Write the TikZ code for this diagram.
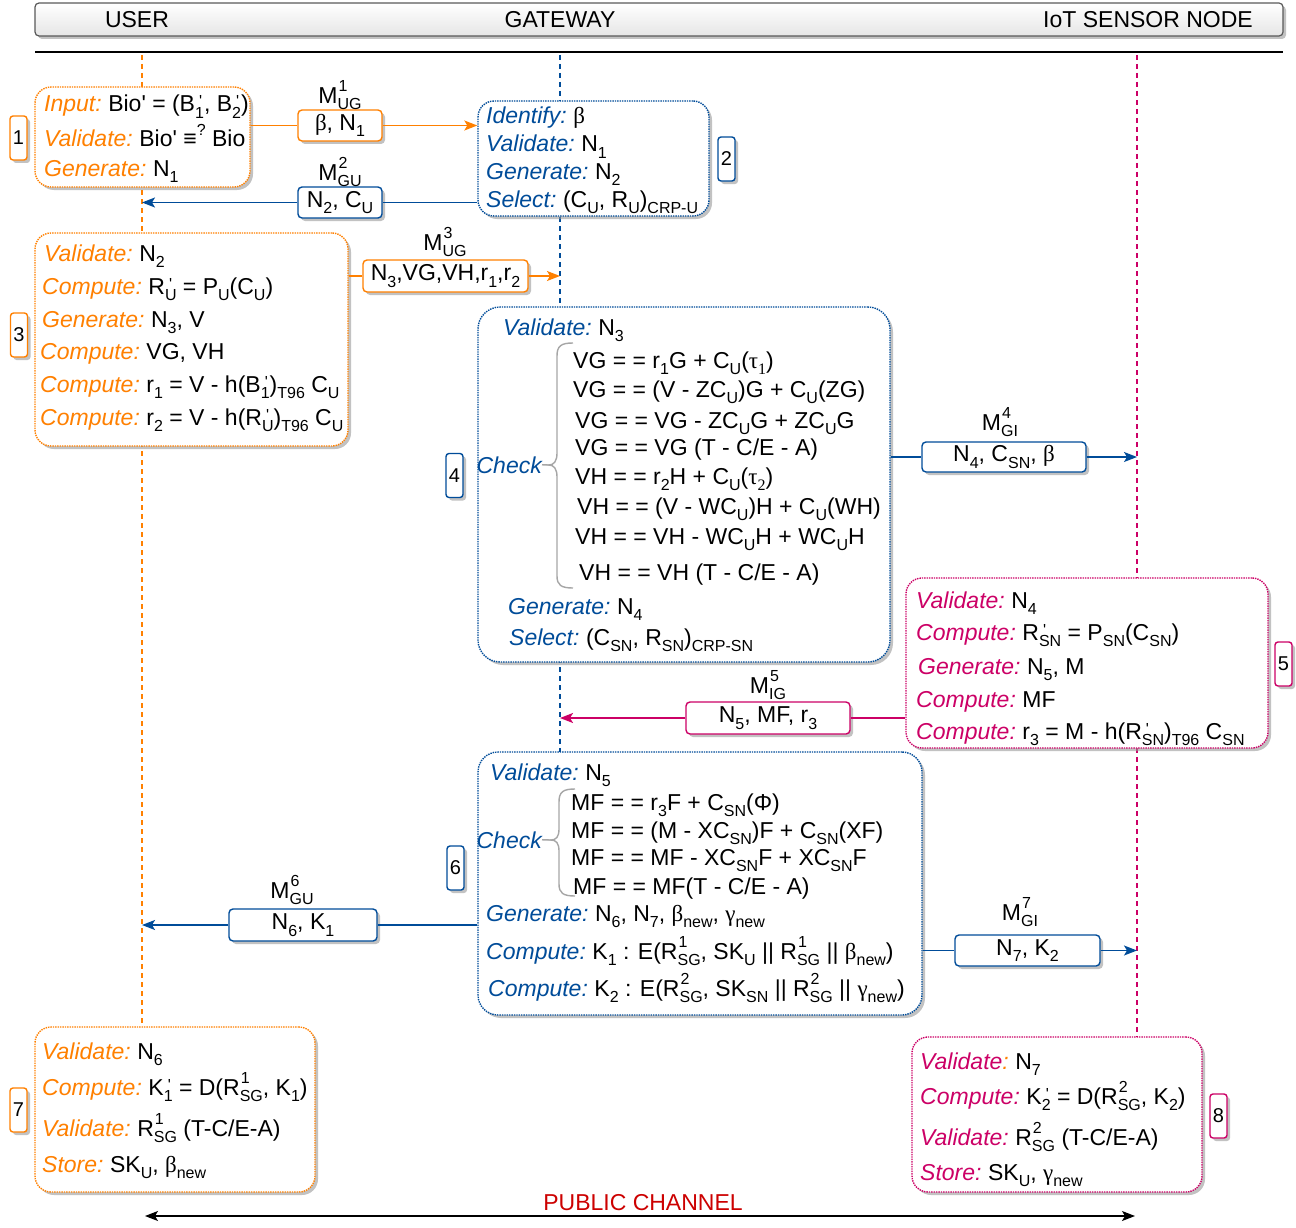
\documentclass[tikz,border=0pt]{standalone}
\usepackage{fontspec}
\setmainfont{Liberation Sans}
\newfontfamily\grk{Liberation Serif}
\newfontfamily\pln[Ligatures=TeXOff]{Liberation Sans}
\usetikzlibrary{shadows,arrows.meta}
\definecolor{cor}{HTML}{FF8000}
\definecolor{cbl}{HTML}{004C99}
\definecolor{cpk}{HTML}{CC0066}
\definecolor{cred}{HTML}{CC0000}
\definecolor{cbr}{HTML}{A6A6A6}
\newcommand{\xsb}[1]{\raisebox{-0.28em}{\fontsize{16}{16}\selectfont #1}}
\newcommand{\xsp}[1]{\raisebox{0.52em}{\fontsize{16}{16}\selectfont #1}}
\newcommand{\xss}[2]{\makebox[0pt][l]{\hspace{1pt}\xsp{#1}}\xsb{#2}}
\newcommand{\xpr}[1]{\makebox[0pt][l]{\hspace{4pt}\raisebox{5pt}{\fontsize{16}{16}\pln '}}\xsb{#1}}
\newcommand{\kw}[2]{\textcolor{#1}{\itshape #2}\kern-2pt\relax}
\newcommand{\pr}{{\pln '}}
\begin{document}
\begin{tikzpicture}[x=1pt,y=-1pt,
  shd/.style={drop shadow={shadow xshift=3pt, shadow yshift=-3pt, fill=black!40, opacity=0.6}},
  proc/.style={rounded corners=16pt, densely dotted, line width=1.4pt, fill=white, shd, inner sep=0pt},
  msg/.style={rounded corners=4pt, line width=1.4pt, fill=white, shd, inner sep=0pt, font=\fontsize{23}{27}\selectfont},
  lbl/.style={rounded corners=3pt, line width=1.4pt, fill=white, shd, inner sep=0pt, minimum width=17pt, minimum height=44pt, font=\fontsize{20}{24}\selectfont},
  txt/.style={anchor=base west, inner sep=0pt, font=\fontsize{23}{27}\selectfont},
  mlab/.style={inner sep=0pt, font=\fontsize{23}{27}\selectfont},
  conn/.style={line width=1.5pt},
  arr/.style={-{Stealth[length=13pt,width=10pt,inset=3pt]}},
  life/.style={line width=1.2pt, dash pattern=on 5pt off 4pt},
  bracec/.style={draw=cbr, line width=1.4pt}
]
\useasboundingbox (0,0) rectangle (1296,1228);
% header
\node[draw=black!65, rounded corners=4pt, line width=1.2pt, top color=white, bottom color=black!10, shd, minimum width=1248pt, minimum height=33pt, inner sep=0pt] (hdr) at (659,19.5) {};
\node[mlab] (hU) at (137,20) {USER};
\node[mlab] (hG) at (560,20) {GATEWAY};
\node[mlab] (hS) at (1148,20) {IoT SENSOR NODE};
\draw[line width=1.6pt] (35,52) -- (1283,52);
% lifelines
\coordinate (uL) at (142,55);
\coordinate (uB) at (142,1027);
\coordinate (gL) at (560,55);
\coordinate (gB) at (560,752);
\coordinate (sL) at (1137,55);
\coordinate (sB) at (1137,1037);
\draw[life, cor] (uL) -- (uB);
\draw[life, cbl] (gL) -- (gB);
\draw[life, cpk] (sL) -- (sB);
% boxes
\node[proc, draw=cor, minimum width=215pt, minimum height=100pt] (b1) at (142.5,137) {};
\node[proc, draw=cbl, minimum width=231pt, minimum height=115pt] (b2) at (593.5,158.5) {};
\node[proc, draw=cor, minimum width=313pt, minimum height=213pt] (b3) at (191.5,339.5) {};
\node[proc, draw=cbl, minimum width=412pt, minimum height=355pt, rounded corners=22pt] (b4) at (684,484.5) {};
\node[proc, draw=cpk, minimum width=362pt, minimum height=170pt] (b5) at (1087,663) {};
\node[proc, draw=cbl, minimum width=444pt, minimum height=263pt, rounded corners=20pt] (b6) at (700,883.5) {};
\node[proc, draw=cor, minimum width=280pt, minimum height=165pt] (b7) at (175,1109.5) {};
\node[proc, draw=cpk, minimum width=290pt, minimum height=155pt] (b8) at (1057,1114.5) {};
% step labels
\node[lbl, draw=cor] (l1) at (18.5,138) {1};
\node[lbl, draw=cbl] (l2) at (726.5,159) {2};
\node[lbl, draw=cor] (l3) at (19,335) {3};
\node[lbl, draw=cbl] (l4) at (454.5,475.5) {4};
\node[lbl, draw=cpk] (l5) at (1283.5,664) {5};
\node[lbl, draw=cbl] (l6) at (455.5,868) {6};
\node[lbl, draw=cor] (l7) at (18.5,1110) {7};
\node[lbl, draw=cpk] (l8) at (1218.5,1116) {8};
% box 1
\node[txt] (t1a) at (44,112) {\kw{cor}{Input:} Bio\pr{} = (B\xpr{1}, B\xpr{2})};
\node[txt] (t1b) at (44,147) {\kw{cor}{Validate:} Bio\pr{} ≡\xsp{?} Bio};
\node[txt] (t1c) at (44,176) {\kw{cor}{Generate:} N\xsb{1}};
% box 2
\node[txt] (t2a) at (486,124) {\kw{cbl}{Identify:} {\grk β}};
\node[txt] (t2b) at (486,152) {\kw{cbl}{Validate:} N\xsb{1}};
\node[txt] (t2c) at (486,179) {\kw{cbl}{Generate:} N\xsb{2}};
\node[txt] (t2d) at (486,207) {\kw{cbl}{Select:} (C\xsb{U}, R\xsb{U})\xsb{CRP-U}};
% box 3
\node[txt] (t3a) at (44,261) {\kw{cor}{Validate:} N\xsb{2}};
\node[txt] (t3b) at (42,294) {\kw{cor}{Compute:} R\xpr{U} = P\xsb{U}(C\xsb{U})};
\node[txt] (t3c) at (42,327) {\kw{cor}{Generate:} N\xsb{3}, V};
\node[txt] (t3d) at (40,359) {\kw{cor}{Compute:} VG, VH};
\node[txt] (t3e) at (40,392) {\kw{cor}{Compute:} r\xsb{1} = V - h(B\xpr{1})\xsb{T96} C\xsb{U}};
\node[txt] (t3f) at (40,425) {\kw{cor}{Compute:} r\xsb{2} = V - h(R\xpr{U})\xsb{T96} C\xsb{U}};
% box 4
\node[txt] (t4a) at (503,335) {\kw{cbl}{Validate:} N\xsb{3}};
\node[txt] (t4e1) at (573,368) {VG = = r\xsb{1}G + C\xsb{U}({\grk τ\xsb{1}})};
\node[txt] (t4e2) at (573,397) {VG = = (V -  ZC\xsb{U})G + C\xsb{U}(ZG)};
\node[txt] (t4e3) at (575,428) {VG = = VG - ZC\xsb{U}G + ZC\xsb{U}G};
\node[txt] (t4e4) at (575,455) {VG = = VG (T - C/E - A)};
\node[txt] (t4e5) at (575,484) {VH = = r\xsb{2}H + C\xsb{U}({\grk τ\xsb{2}})};
\node[txt] (t4e6) at (577,514) {VH = = (V - WC\xsb{U})H + C\xsb{U}(WH)};
\node[txt] (t4e7) at (575,544) {VH = = VH -  WC\xsb{U}H + WC\xsb{U}H};
\node[txt] (t4e8) at (579,580) {VH = = VH (T - C/E - A)};
\node[txt] (t4b) at (508,614) {\kw{cbl}{Generate:} N\xsb{4}};
\node[txt] (t4c) at (509,645) {\kw{cbl}{Select:} (C\xsb{SN}, R\xsb{SN})\xsb{CRP-SN}};
\node[txt, anchor=base east] (ck4) at (542,473) {\textcolor{cbl}{\itshape Check}};
\coordinate (br4) at (549,465);
\draw[bracec] (573,343) .. controls (561,343) and (557,346) .. (557,356) -- (557,453) .. controls (557,461) and (554,465) .. (br4) .. controls (554,465) and (557,469) .. (557,477) -- (557,576) .. controls (557,585) and (561,588) .. (573,588);
\draw[bracec] (ck4.east) -- (br4);
% box 5
\node[txt] (t5a) at (916,608) {\kw{cpk}{Validate:} N\xsb{4}};
\node[txt] (t5b) at (916,640) {\kw{cpk}{Compute:} R\xpr{SN} = P\xsb{SN}(C\xsb{SN})};
\node[txt] (t5c) at (918,674) {\kw{cpk}{Generate:} N\xsb{5}, M};
\node[txt] (t5d) at (916,707) {\kw{cpk}{Compute:} MF};
\node[txt] (t5e) at (916,739) {\kw{cpk}{Compute:} r\xsb{3} = M - h(R\xpr{SN})\xsb{T96} C\xsb{SN}};
% box 6
\node[txt] (t6a) at (490,780) {\kw{cbl}{Validate:} N\xsb{5}};
\node[txt] (t6e1) at (571,810) {MF = = r\xsb{3}F + C\xsb{SN}(Φ)};
\node[txt] (t6e2) at (571,838) {MF = = (M - XC\xsb{SN})F + C\xsb{SN}(XF)};
\node[txt] (t6e3) at (571,865) {MF = = MF - XC\xsb{SN}F + XC\xsb{SN}F};
\node[txt] (t6e4) at (573,894) {MF = = MF(T - C/E - A)};
\node[txt] (t6b) at (486,921) {\kw{cbl}{Generate:} N\xsb{6}, N\xsb{7}, {\grk β}\xsb{new}, {\grk γ}\xsb{new}};
\node[txt] (t6c) at (486,959) {\kw{cbl}{Compute:} K\xsb{1} : E(R\xss{1}{SG}, SK\xsb{U} || R\xss{1}{SG} || {\grk β}\xsb{new})};
\node[txt] (t6d) at (488,996) {\kw{cbl}{Compute:} K\xsb{2} : E(R\xss{2}{SG}, SK\xsb{SN} || R\xss{2}{SG} || {\grk γ}\xsb{new})};
\node[txt, anchor=base east] (ck6) at (542,848) {\textcolor{cbl}{\itshape Check}};
\coordinate (br6) at (551,840);
\draw[bracec] (575,789) .. controls (563,789) and (559,792) .. (559,802) -- (559,829) .. controls (559,837) and (556,840) .. (br6) .. controls (556,840) and (559,843) .. (559,851) -- (559,884) .. controls (559,893) and (563,896) .. (575,896);
\draw[bracec] (ck6.east) -- (br6);
% box 7
\node[txt] (t7a) at (42,1059) {\kw{cor}{Validate:} N\xsb{6}};
\node[txt] (t7b) at (42,1095) {\kw{cor}{Compute:} K\xpr{1} = D(R\xss{1}{SG}, K\xsb{1})};
\node[txt] (t7c) at (42,1136) {\kw{cor}{Validate:} R\xss{1}{SG} (T-C/E-A)};
\node[txt] (t7d) at (42,1172) {\kw{cor}{Store:} SK\xsb{U}, {\grk β}\xsb{new}};
% box 8
\node[txt] (t8a) at (920,1069) {\textcolor{cpk}{\itshape Validate}\kw{cor}{:} N\xsb{7}};
\node[txt] (t8b) at (920,1104) {\kw{cpk}{Compute:} K\xpr{2} = D(R\xss{2}{SG}, K\xsb{2})};
\node[txt] (t8c) at (920,1145) {\kw{cpk}{Validate:} R\xss{2}{SG} (T-C/E-A)};
\node[txt] (t8d) at (920,1180) {\kw{cpk}{Store:} SK\xsb{U}, {\grk γ}\xsb{new}};
% messages
\node[msg, draw=cor, minimum width=84pt, minimum height=31pt] (m1) at (340,125.5) {{\grk β}, N\xsb{1}};
\node[mlab] (ml1) at (340,95) {M\xss{1}{UG}};
\node[msg, draw=cbl, minimum width=84pt, minimum height=31pt] (m2) at (340,202.5) {N\xsb{2}, C\xsb{U}};
\node[mlab] (ml2) at (340,172) {M\xss{2}{GU}};
\node[msg, draw=cor, minimum width=165pt, minimum height=32pt] (m3) at (445.5,276) {N\xsb{3},VG,VH,r\xsb{1},r\xsb{2}};
\node[mlab] (ml3) at (445,242) {M\xss{3}{UG}};
\node[msg, draw=cbl, minimum width=164pt, minimum height=30pt] (m4) at (1004,457) {N\xsb{4}, C\xsb{SN}, {\grk β}};
\node[mlab] (ml4) at (1000,422) {M\xss{4}{GI}};
\node[msg, draw=cpk, minimum width=164pt, minimum height=32pt] (m5) at (768,718) {N\xsb{5}, MF, r\xsb{3}};
\node[mlab] (ml5) at (768,685) {M\xss{5}{IG}};
\node[msg, draw=cbl, minimum width=148pt, minimum height=32pt] (m6) at (303,925) {N\xsb{6}, K\xsb{1}};
\node[mlab] (ml6) at (292,890) {M\xss{6}{GU}};
\node[msg, draw=cbl, minimum width=145pt, minimum height=31pt] (m7) at (1027.5,950.5) {N\xsb{7}, K\xsb{2}};
\node[mlab] (ml7) at (1020,912) {M\xss{7}{GI}};
% connectors
\draw[conn, cor] (b1.east |- m1.west) -- (m1.west);
\draw[conn, cor, arr] (m1.east) -- (m1.east -| b2.west);
\draw[conn, cbl] (b2.west |- m2.east) -- (m2.east);
\draw[conn, cbl, arr] (m2.west) -- (m2.west -| uL);
\draw[conn, cor] (b3.east |- m3.west) -- (m3.west);
\draw[conn, cor, arr] (m3.east) -- (m3.east -| gL);
\draw[conn, cbl] (b4.east |- m4.west) -- (m4.west);
\draw[conn, cbl, arr] (m4.east) -- (m4.east -| sL);
\draw[conn, cpk] (b5.west |- m5.east) -- (m5.east);
\draw[conn, cpk, arr] (m5.west) -- (m5.west -| gL);
\draw[conn, cbl] (b6.west |- m6.east) -- (m6.east);
\draw[conn, cbl, arr] (m6.west) -- (m6.west -| uL);
\draw[conn, cbl] (b6.east |- m7.west) -- (m7.west);
\draw[conn, cbl, arr] (m7.east) -- (m7.east -| sL);
% public channel
\node[mlab, text=cred] (pc) at (643,1203) {PUBLIC CHANNEL};
\coordinate (pcL) at (145,1216);
\coordinate (pcR) at (1135,1216);
\draw[line width=1.3pt, {Stealth[length=13pt,width=10pt,inset=3pt]}-{Stealth[length=13pt,width=10pt,inset=3pt]}] (pcL) -- (pcR);
\end{tikzpicture}
\end{document}
